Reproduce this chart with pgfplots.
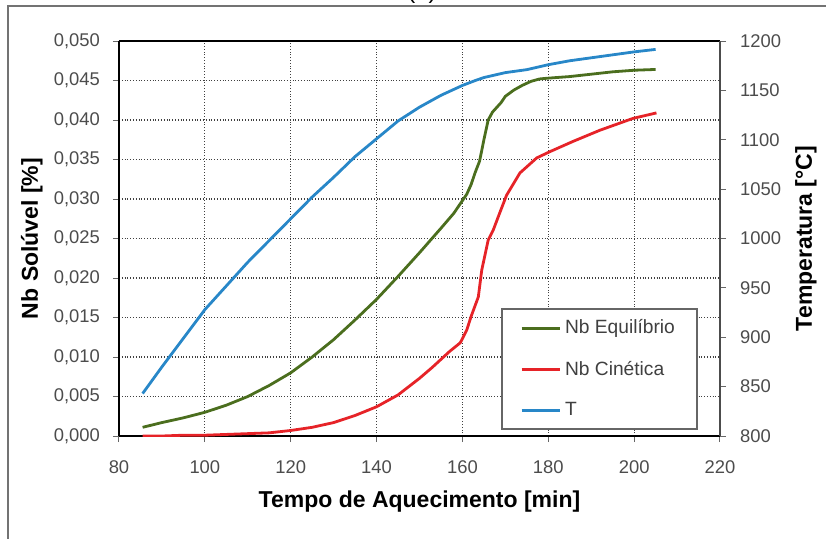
\documentclass[border=0pt]{standalone}
\usepackage{fontspec}
\setmainfont{Liberation Sans}
\usepackage{pgfplots}
\pgfplotsset{compat=1.18}
\definecolor{eqcol}{RGB}{75,110,30}
\definecolor{kincol}{RGB}{230,35,40}
\definecolor{tcol}{RGB}{40,135,200}

\pgfplotstableread{
x y
85.5 0.0011
90 0.0017
95 0.0023
100 0.0030
105 0.0039
110 0.0050
115 0.0064
120 0.0080
125 0.0100
130 0.0122
135 0.0147
140 0.0173
145 0.0202
150 0.0232
155 0.0263
158 0.0282
160 0.0298
161 0.0306
162 0.0318
163 0.0334
164 0.0348
165 0.0375
166 0.0400
167 0.0410
168 0.0416
169 0.0422
170 0.0430
172 0.0438
174 0.0444
176 0.0449
178 0.0452
180 0.0453
185 0.0455
190 0.0458
195 0.0461
200 0.0463
205 0.0464
}\equil

\pgfplotstableread{
x y
85.5 0.0000
90 0.0000
95 0.0001
100 0.0001
105 0.0002
110 0.0003
115 0.0004
120 0.0007
125 0.0011
130 0.0017
135 0.0026
140 0.0037
145 0.0052
150 0.0073
153 0.0087
157 0.0107
159.5 0.0118
161 0.0134
162 0.0151
163.7 0.0176
164.5 0.0210
166 0.0248
167.2 0.0261
168.8 0.0284
170.3 0.0305
173.4 0.0333
177.3 0.0352
180.4 0.0360
185.8 0.0373
192 0.0387
199.7 0.0402
205.2 0.0409
}\kinet

\pgfplotstableread{
x y
85.5 843
88 858
90 870
95 899
100 928
105 952
110 976
115 998
120 1020
125 1042
130 1062
135 1083
140 1101
145 1119
150 1133
155 1145
160 1155
163 1160
165 1163
168 1166
170 1168
175 1171
180 1176
185 1180
190 1183
195 1186
200 1189
205 1191.5
}\temp

\pgfplotsset{
  common/.style={
    at={(59.5pt,51pt)}, anchor=south west,
    scale only axis, width=300.5pt, height=197.5pt,
    xmin=80, xmax=220,
    tick align=outside, major tick length=3pt,
    tick style={black!60, line width=0.5pt},
    ticklabel style={font=\fontsize{9.2}{11}\selectfont, text=black!70},
    /pgf/number format/assume math mode=true,
    label style={font=\bfseries\fontsize{11.5}{13}\selectfont},
  }
}

\begin{document}
\begin{tikzpicture}
\useasboundingbox (0pt,0pt) rectangle (413pt,269pt);
\draw[black!55, line width=1pt] (4pt,-2pt) -- (4pt,266pt) -- (415pt,266pt);
\node[anchor=base, font=\fontsize{12}{14}\selectfont] at (211pt,270pt) {(b)};

\begin{axis}[common,
    ymin=0, ymax=0.05,
    xtick={80,100,120,140,160,180,200,220},
    ytick={0,0.005,0.01,0.015,0.02,0.025,0.03,0.035,0.04,0.045,0.05},
    xtick pos=bottom, ytick pos=left,
    axis y line*=left,
    axis line style={line width=1.3pt},
    grid=major, grid style={densely dotted, black!75, line width=0.6pt},
    scaled y ticks=false,
    xticklabel style={yshift=-6pt},
    yticklabel style={xshift=-3pt, /pgf/number format/.cd, fixed, fixed zerofill, precision=3, use comma},
    xlabel={Tempo de Aquecimento [min]},
    ylabel={Nb Solúvel [\%]},
    xlabel style={at={(axis description cs:0.5,-0.165)}, anchor=center},
    ylabel style={at={(axis description cs:-0.145,0.5)}, anchor=center},
]
\addplot[eqcol, line width=1.4pt] table {\equil};
\addplot[kincol, line width=1.4pt] table {\kinet};
\end{axis}

\begin{axis}[common,
    ymin=800, ymax=1200,
    ytick={800,850,900,950,1000,1050,1100,1150,1200},
    axis x line=none, axis y line*=right,
    axis line style={black!70, line width=1.3pt},
    yticklabel style={xshift=3.5pt, /pgf/number format/1000 sep={}},
    ylabel={Temperatura [°C]},
    every axis y label/.style={at={(axis description cs:1.143,0.5)}, rotate=90, anchor=center,
      font=\bfseries\fontsize{11.5}{13}\selectfont},
    legend style={at={(0.963,0.015)}, anchor=south east, draw=black!60, line width=0.8pt,
      font=\fontsize{9.6}{11}\selectfont, text=black!75, row sep=8pt,
      inner xsep=9pt, inner ysep=3.5pt, cells={anchor=west}},
    legend image code/.code={\draw[#1, line width=1.4pt] (0pt,0pt) -- (19pt,0pt);},
]
\addlegendimage{eqcol}
\addlegendentry{Nb Equilíbrio}
\addlegendimage{kincol}
\addlegendentry{Nb Cinética}
\addplot[tcol, line width=1.4pt] table {\temp};
\addlegendentry{T}
\end{axis}
\end{tikzpicture}
\end{document}
